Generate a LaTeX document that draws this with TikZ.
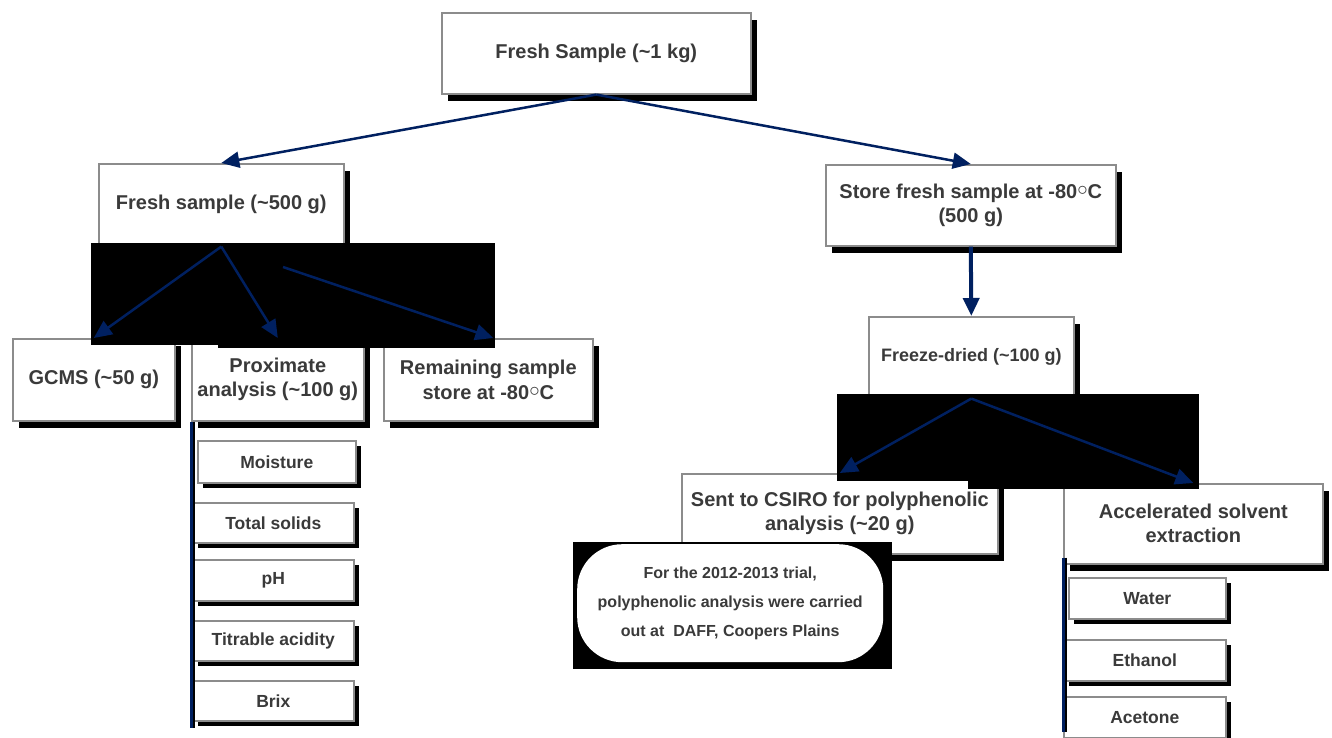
\documentclass[tikz,border=0pt]{standalone}
\usepackage{fontspec}
\setmainfont{Liberation Sans}
\usepackage{xcolor}
\usetikzlibrary{arrows.meta}
\usetikzlibrary{shadows}
\definecolor{navy}{RGB}{0,32,96}
\definecolor{txtgray}{RGB}{58,58,58}
\definecolor{rimgray}{RGB}{140,140,140}
\newcommand{\degc}{\raisebox{0.16em}[0pt][0pt]{$\circ$}C}

\begin{document}
\begin{tikzpicture}[x=1pt,y=-1pt,
	boxbase/.style={draw=rimgray, line width=1.6pt, fill=white, anchor=north west, align=center, inner sep=0pt, text=txtgray, font=\bfseries\fontsize{20}{24}\selectfont},
	box/.style={boxbase, drop shadow={shadow xshift=6.5pt, shadow yshift=-7pt, fill=black, opacity=1}},
	subbox/.style={boxbase, font=\bfseries\fontsize{17.5}{20}\selectfont, drop shadow={shadow xshift=5pt, shadow yshift=-5pt, fill=black, opacity=1}},
	link/.style={navy, line width=2.5pt, -{Triangle[length=18pt,width=16pt]}}]
					% page
					\useasboundingbox (0,0) rectangle (1332,738);
					\fill[white] (0,0) rectangle (1332,738);
					% draw boxes
					\node[box, minimum width=309pt, minimum height=81pt] (top) at (441,12) {Fresh Sample (\textasciitilde1 kg)};
					\node[box, minimum width=245pt, minimum height=82pt] (fresh) at (98,163) {Fresh sample (\textasciitilde500 g)};
					\node[box, minimum width=162pt, minimum height=82pt] (gcms) at (12,338) {GCMS (\textasciitilde50 g)};
					\node[box, minimum width=172pt, minimum height=82pt] (prox) at (191,338) {Proximate\\analysis (\textasciitilde100 g)};
					\node[box, minimum width=209pt, minimum height=82pt, font=\bfseries\fontsize{20}{25.5}\selectfont] (remain) at (383,338) {Remaining sample\\store at -80\degc};
					\node[box, minimum width=290pt, minimum height=81pt] (store) at (825,164) {Store fresh sample at -80\degc\\(500 g)};
					\node[box, minimum width=205pt, minimum height=81pt, font=\bfseries\fontsize{18}{22}\selectfont] (freeze) at (868,316) {Freeze-dried (\textasciitilde100 g)};
					\node[box, minimum width=316pt, minimum height=80pt] (csiro) at (681,473) {Sent to CSIRO for polyphenolic\\analysis (\textasciitilde20 g)};
					\node[box, minimum width=259pt, minimum height=80pt] (ase) at (1063,483) {Accelerated solvent\\extraction};
					% proximate tests
					\node[subbox, minimum width=158pt, minimum height=42pt] (moist) at (197,440) {Moisture};
					\node[subbox, minimum width=161pt, minimum height=40pt] (solids) at (192,502) {Total solids};
					\node[subbox, minimum width=161pt, minimum height=41pt] (ph) at (192,559) {pH};
					\node[subbox, minimum width=161pt, minimum height=40pt] (titr) at (192,620) {Titrable acidity};
					\node[subbox, minimum width=161pt, minimum height=40pt] (brix) at (192,680) {Brix};
					% solvents
					\node[subbox, minimum width=157pt, minimum height=41pt] (water) at (1068,577) {Water};
					\node[subbox, minimum width=162pt, minimum height=41pt] (ethanol) at (1063,639) {Ethanol};
					\node[subbox, minimum width=162pt, minimum height=41pt] (acetone) at (1063,696) {Acetone};
					% black patches
					\fill[black] (91,243) rectangle (495,345);
					\fill[black] (218,243) rectangle (495,348);
					\fill[black] (837,394) rectangle (1199,481);
					\fill[black] (968,394) rectangle (1199,489);
					% note
					\fill[black] (573,542) rectangle (892,669);
					\node[fill=white, rounded corners=45pt, minimum width=306pt, minimum height=118pt, anchor=north west, align=center, inner sep=0pt, text=txtgray, font=\bfseries\fontsize{16}{29}\selectfont] (note) at (577,544) {For the 2012-2013 trial,\\polyphenolic analysis were carried\\out at~~DAFF, Coopers Plains};
					% draw side lines
					\coordinate (proxend) at (191,728);
					\coordinate (aseend) at (1063,732);
					\draw[black, line width=2.5pt] ([xshift=3pt]prox.south west) -- ([xshift=3pt]proxend);
					\draw[navy, line width=3pt] (prox.south west) -- (proxend);
					\draw[black, line width=2.5pt] ([xshift=3pt,yshift=7pt]ase.south west) -- ([xshift=3pt]aseend);
					\draw[navy, line width=3pt] ([yshift=7pt]ase.south west) -- (aseend);
					% add arrows
					\coordinate (rs) at (283,267);
					\draw[link] (top.south) -- (fresh.north);
					\draw[link] (top.south) -- (store.north);
					\draw[link] (fresh.south) -- (gcms.north);
					\draw[link] (fresh.south) -- (prox.north);
					\draw[link] (rs) -- ([xshift=5pt]remain.north);
					\draw[link, line width=4pt] (store.south) -- (freeze.north);
					\draw[link] (freeze.south) -- (csiro.north);
					\draw[link] (freeze.south) -- (ase.north);
				\end{tikzpicture}
\end{document}
